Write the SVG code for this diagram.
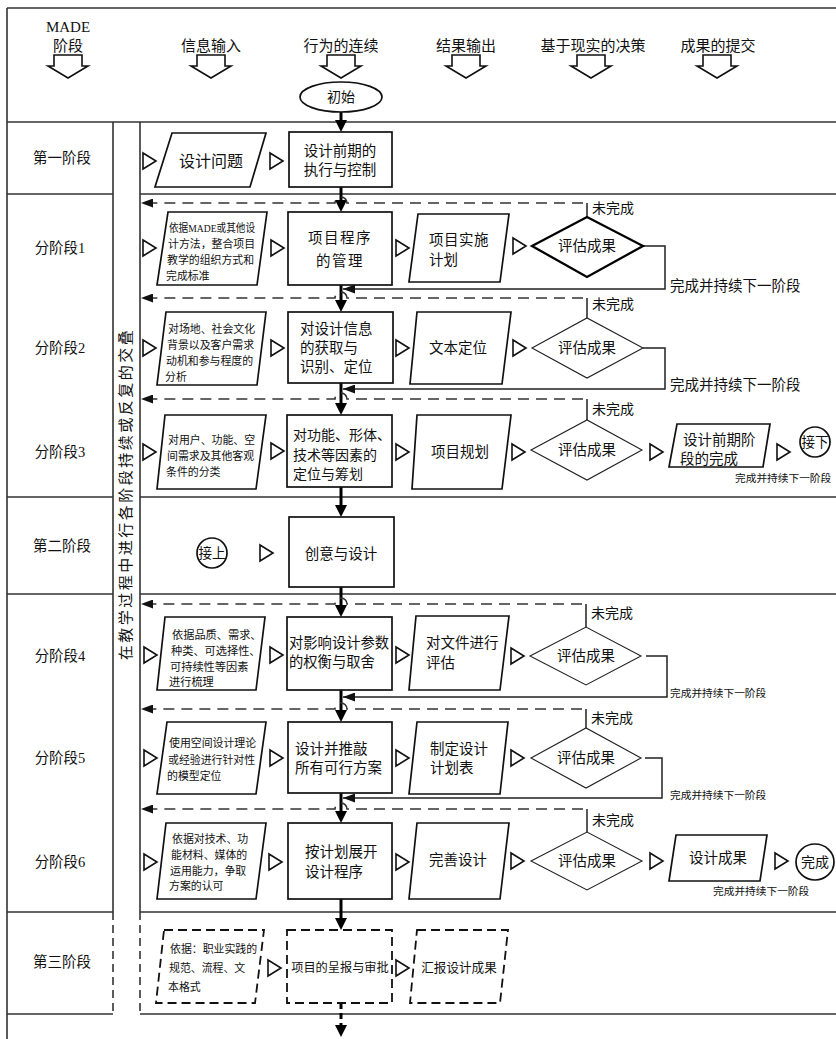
<svg xmlns="http://www.w3.org/2000/svg" xmlns:xlink="http://www.w3.org/1999/xlink" width="836" height="1039" viewBox="0 0 836 1039">
<style>
text{font-family:"Liberation Serif","Noto Sans CJK SC",serif;fill:#111;dominant-baseline:central}
.c{text-anchor:middle}
.h{font-size:15px}
.lab{font-size:14.5px;text-anchor:middle}
.m{font-size:14.5px}
.s{font-size:10.9px}
.xs{font-size:11.2px}
.sm{font-size:10.7px}
.sep{stroke:#333;stroke-width:1.6;fill:none}
.shp{fill:#fff;stroke:#111;stroke-width:1.7}
.thin{fill:#fff;stroke:#222;stroke-width:1.1}
.dsh{fill:#fff;stroke:#111;stroke-width:1.8;stroke-dasharray:9 5}
.tri{fill:#fff;stroke:#111;stroke-width:1.6}
.flow{stroke:#000;stroke-width:3;fill:none}
.fb{stroke:#333;stroke-width:1.6;fill:none;stroke-dasharray:11 7}
.ret{stroke:#222;stroke-width:1.5;fill:none}
</style>
<defs>
<marker id="fa" viewBox="0 0 12 12" refX="6" refY="6" markerWidth="12" markerHeight="12" markerUnits="userSpaceOnUse" orient="auto"><path d="M0,0 L12,6 L0,12 Z" fill="#000"/></marker>
<marker id="la" viewBox="0 0 12 9" refX="12" refY="4.5" markerWidth="12" markerHeight="9" markerUnits="userSpaceOnUse" orient="auto"><path d="M0,0 L12,4.5 L0,9 Z" fill="#111"/></marker>
<path id="tr" d="M0,-8 L13,0 L0,8 Z" class="tri"/>
<path id="ha" d="M-14,0 H14 V11 H20 L0,23 L-20,11 H-14 Z" fill="#fff" stroke="#111" stroke-width="1.6"/>
</defs>

<g id="frame">
<path class="sep" d="M7,8 H836 M7,8 V1039"/>
<path class="sep" d="M7,122 H836"/>
<path class="sep" d="M7,194 H113 M140,194 H836"/>
<path class="sep" d="M7,497 H113 M140,497 H836"/>
<path class="sep" d="M7,594 H113 M140,594 H836"/>
<path class="sep" d="M7,912 H113 M140,912 H836"/>
<path class="sep" d="M7,1014 H113 M140,1014 H836"/>
<path class="sep" d="M113,122 V912 M140,122 V912"/>
<path class="sep" stroke-dasharray="8 5" d="M113,912 V1014 M140,912 V1014"/>
</g>

<g id="header">
<text class="h c" x="68" y="27">MADE</text>
<text class="h c" x="68" y="46">阶段</text>
<text class="h c" x="211" y="46">信息输入</text>
<text class="h c" x="341" y="46">行为的连续</text>
<text class="h c" x="466" y="46">结果输出</text>
<text class="h c" x="593" y="46">基于现实的决策</text>
<text class="h c" x="718" y="46">成果的提交</text>
<use xlink:href="#ha" x="68" y="55"/>
<use xlink:href="#ha" x="211" y="55"/>
<use xlink:href="#ha" x="341" y="55"/>
<use xlink:href="#ha" x="466" y="55"/>
<use xlink:href="#ha" x="591" y="55"/>
<use xlink:href="#ha" x="717" y="55"/>
</g>

<g id="stage-labels">
<text class="lab" x="62" y="158">第一阶段</text>
<text class="lab" x="60" y="248">分阶段1</text>
<text class="lab" x="60" y="348">分阶段2</text>
<text class="lab" x="60" y="452">分阶段3</text>
<text class="lab" x="62" y="546">第二阶段</text>
<text class="lab" x="60" y="656">分阶段4</text>
<text class="lab" x="60" y="758">分阶段5</text>
<text class="lab" x="60" y="862">分阶段6</text>
<text class="lab" x="62" y="962">第三阶段</text>
<text font-size="15" class="c" x="126" y="494" letter-spacing="2.5" transform="rotate(-90 126 494)">在教学过程中进行各阶段持续或反复的交叠</text>
</g>

<g id="connectors">
<path class="flow" d="M341,112 V126" marker-end="url(#fa)"/>
<path class="flow" d="M341,187 V206" marker-end="url(#fa)"/>
<path class="flow" d="M341,285 V306" marker-end="url(#fa)"/>
<path class="flow" d="M341,383 V409" marker-end="url(#fa)"/>
<path class="flow" d="M341,487 V511" marker-end="url(#fa)"/>
<path class="flow" d="M341,587 V611" marker-end="url(#fa)"/>
<path class="flow" d="M341,690 V716" marker-end="url(#fa)"/>
<path class="flow" d="M341,793 V817" marker-end="url(#fa)"/>
<path class="flow" d="M341,899 V924" marker-end="url(#fa)"/>
<path class="flow" stroke-dasharray="6 4" d="M341,1003 V1031" marker-end="url(#fa)"/>
<path class="ret" d="M587,217 V203 M587,318 V298 M587,420 V399 M586,627 V604 M586,728 V709 M587,832 V809"/>
<path class="fb" d="M583,203 H347 A6,6 0 0 0 335,203 H141" marker-end="url(#la)"/>
<path class="fb" d="M583,298 H347 A6,6 0 0 0 335,298 H141" marker-end="url(#la)"/>
<path class="fb" d="M583,399 H347 A6,6 0 0 0 335,399 H141" marker-end="url(#la)"/>
<path class="fb" d="M582,604 H347 A6,6 0 0 0 335,604 H141" marker-end="url(#la)"/>
<path class="fb" d="M582,709 H347 A6,6 0 0 0 335,709 H141" marker-end="url(#la)"/>
<path class="fb" d="M583,809 H347 A6,6 0 0 0 335,809 H141" marker-end="url(#la)"/>
<path class="ret" d="M643,246 H665 V289 H343" marker-end="url(#la)"/>
<path class="ret" d="M643,348 H665 V389 H343" marker-end="url(#la)"/>
<path class="ret" d="M646,656 H667 V697 H343" marker-end="url(#la)"/>
<path class="ret" d="M645,758 H662 V798 H343" marker-end="url(#la)"/>
<text font-size="14" x="592" y="208">未完成</text>
<text font-size="14" x="592" y="304">未完成</text>
<text font-size="14" x="592" y="409">未完成</text>
<text font-size="14" x="591" y="613">未完成</text>
<text font-size="14" x="591" y="718">未完成</text>
<text font-size="14" x="592" y="820">未完成</text>
<text font-size="14.5" x="670" y="286">完成并持续下一阶段</text>
<text font-size="14.5" x="670" y="385">完成并持续下一阶段</text>
<text class="sm" x="735" y="478">完成并持续下一阶段</text>
<text class="sm" x="670" y="693">完成并持续下一阶段</text>
<text class="sm" x="670" y="795">完成并持续下一阶段</text>
<text class="sm" x="713" y="891">完成并持续下一阶段</text>
</g>

<g id="triangles">
<use xlink:href="#tr" x="143" y="161"/><use xlink:href="#tr" x="270" y="161"/>
<use xlink:href="#tr" x="143" y="248"/><use xlink:href="#tr" x="271" y="248"/><use xlink:href="#tr" x="396" y="248"/><use xlink:href="#tr" x="513" y="246"/>
<use xlink:href="#tr" x="143" y="348"/><use xlink:href="#tr" x="271" y="348"/><use xlink:href="#tr" x="396" y="348"/><use xlink:href="#tr" x="513" y="348"/>
<use xlink:href="#tr" x="143" y="452"/><use xlink:href="#tr" x="271" y="451"/><use xlink:href="#tr" x="396" y="452"/><use xlink:href="#tr" x="512" y="452"/><use xlink:href="#tr" x="650" y="452"/><use xlink:href="#tr" x="777" y="452"/>
<use xlink:href="#tr" x="260" y="553"/>
<use xlink:href="#tr" x="144" y="655"/><use xlink:href="#tr" x="270" y="655"/><use xlink:href="#tr" x="396" y="655"/><use xlink:href="#tr" x="511" y="656"/>
<use xlink:href="#tr" x="144" y="758"/><use xlink:href="#tr" x="270" y="758"/><use xlink:href="#tr" x="396" y="758"/><use xlink:href="#tr" x="511" y="758"/>
<use xlink:href="#tr" x="144" y="862"/><use xlink:href="#tr" x="269" y="862"/><use xlink:href="#tr" x="396" y="862"/><use xlink:href="#tr" x="511" y="861"/><use xlink:href="#tr" x="650" y="861"/><use xlink:href="#tr" x="775" y="861"/>
<use xlink:href="#tr" x="268" y="968"/><use xlink:href="#tr" x="396" y="968"/>
</g>

<g id="n-start"><ellipse class="shp" cx="341" cy="97" rx="41" ry="15"/><text class="c" font-size="14" x="341" y="97">初始</text></g>

<g id="n-s1-in"><polygon class="shp" points="172,133 266,133 250,187 155,187"/><text class="c" font-size="16" x="211" y="161">设计问题</text></g>
<g id="n-s1-act"><rect class="shp" x="289" y="132" width="103" height="55"/><text class="m c" x="340" y="151">设计前期的</text><text class="m c" x="340" y="170">执行与控制</text></g>

<g id="n-r1-in"><polygon class="shp" points="168,212 267,212 257,285 157,285"/><text class="s" x="169" y="228" textLength="86" lengthAdjust="spacingAndGlyphs">依据MADE或其他设</text><text class="s" x="168" y="244">计方法，整合项目</text><text class="s" x="167" y="260">教学的组织方式和</text><text class="s" x="166" y="276">完成标准</text></g>
<g id="n-r1-act"><rect class="shp" x="288" y="212" width="104" height="73"/><text class="m c" x="340" y="238" letter-spacing="1.5">项目程序</text><text class="m c" x="340" y="261" letter-spacing="1.5">的管理</text></g>
<g id="n-r1-out"><polygon class="shp" points="418,214 509,214 500,282 409,282"/><text class="m" x="429" y="240" letter-spacing="0.5">项目实施</text><text class="m" x="429" y="260">计划</text></g>
<g id="n-r1-eval"><polygon fill="#fff" stroke="#000" stroke-width="2.3" points="532,246 587,217 643,246 587,277"/><text class="m c" x="587" y="246">评估成果</text></g>

<g id="n-r2-in"><polygon class="shp" points="166,312 266,312 257,385 157,385"/><text class="s" x="168" y="329">对场地、社会文化</text><text class="s" x="167" y="345">背景以及客户需求</text><text class="s" x="166" y="361">动机和参与程度的</text><text class="s" x="165" y="377">分析</text></g>
<g id="n-r2-act"><rect class="shp" x="288" y="312" width="105" height="71"/><text class="m" x="300" y="329">对设计信息</text><text class="m" x="300" y="348">的获取与</text><text class="m" x="300" y="367">识别、定位</text></g>
<g id="n-r2-out"><polygon class="shp" points="417,312 511,312 502,384 410,384"/><text class="m c" x="458" y="348">文本定位</text></g>
<g id="n-r2-eval"><polygon class="thin" points="532,348 587,318 643,348 587,378"/><text class="m c" x="587" y="348">评估成果</text></g>

<g id="n-r3-in"><polygon class="shp" points="165,415 266,415 256,489 157,489"/><text class="s" x="168" y="440">对用户、功能、空</text><text class="s" x="167" y="456">间需求及其他客观</text><text class="s" x="166" y="472">条件的分类</text></g>
<g id="n-r3-act"><rect class="shp" x="287" y="415" width="105" height="72"/><text font-size="14" x="293" y="435">对功能、形体、</text><text font-size="14" x="293" y="455">技术等因素的</text><text font-size="14" x="293" y="474">定位与筹划</text></g>
<g id="n-r3-out"><polygon class="shp" points="417,415 511,415 502,489 412,489"/><text class="m c" x="460" y="452">项目规划</text></g>
<g id="n-r3-eval"><polygon class="thin" points="531,450 587,420 642,450 587,480"/><text class="m c" x="587" y="450">评估成果</text></g>
<g id="n-r3-done"><polygon class="shp" points="677,424 770,424 763,467 669,467"/><text class="m" x="683" y="440">设计前期阶</text><text class="m" x="680" y="459">段的完成</text></g>
<g id="n-next"><circle class="shp" cx="815" cy="442" r="15"/><text class="c" font-size="13.5" x="815" y="442">接下</text></g>

<g id="n-prev"><circle class="shp" cx="212" cy="553" r="15"/><text class="c" font-size="13.5" x="212" y="553">接上</text></g>
<g id="n-s2-act"><rect class="shp" x="289" y="517" width="105" height="70"/><text class="m c" x="341" y="554">创意与设计</text></g>

<g id="n-r4-in"><polygon class="shp" points="165,617 265,617 256,690 157,690"/><text class="xs" x="172" y="635">依据品质、需求、</text><text class="xs" x="171" y="651">种类、可选择性、</text><text class="xs" x="170" y="667">可持续性等因素</text><text class="xs" x="169" y="682">进行梳理</text></g>
<g id="n-r4-act"><rect class="shp" x="287" y="617" width="105" height="73"/><text font-size="14.3" x="289" y="643">对影响设计参数</text><text font-size="14.3" x="289" y="662">的权衡与取舍</text></g>
<g id="n-r4-out"><polygon class="shp" points="416,616 509,616 500,690 409,690"/><text class="m" x="426" y="643">对文件进行</text><text class="m" x="426" y="663">评估</text></g>
<g id="n-r4-eval"><polygon class="thin" points="530,656 586,627 641,656 586,685"/><text class="m c" x="586" y="656">评估成果</text></g>

<g id="n-r5-in"><polygon class="shp" points="167,722 266,722 256,794 157,794"/><text class="s" x="169" y="743">使用空间设计理论</text><text class="s" x="168" y="760">或经验进行针对性</text><text class="s" x="167" y="776">的模型定位</text></g>
<g id="n-r5-act"><rect class="shp" x="288" y="722" width="104" height="71"/><text class="m" x="295" y="749">设计并推敲</text><text class="m" x="295" y="768">所有可行方案</text></g>
<g id="n-r5-out"><polygon class="shp" points="417,722 508,722 500,794 409,794"/><text class="m" x="430" y="749">制定设计</text><text class="m" x="430" y="768">计划表</text></g>
<g id="n-r5-eval"><polygon class="thin" points="531,758 586,728 641,758 586,788"/><text class="m c" x="586" y="758">评估成果</text></g>

<g id="n-r6-in"><polygon class="shp" points="166,823 266,823 256,899 157,899"/><text class="s" x="172" y="839">依据对技术、功</text><text class="s" x="171" y="855">能材料、媒体的</text><text class="s" x="170" y="871">运用能力，争取</text><text class="s" x="169" y="886">方案的认可</text></g>
<g id="n-r6-act"><rect class="shp" x="288" y="823" width="104" height="76"/><text class="m" x="305" y="852">按计划展开</text><text class="m" x="305" y="872">设计程序</text></g>
<g id="n-r6-out"><polygon class="shp" points="417,823 509,823 500,899 409,899"/><text class="m c" x="458" y="860">完善设计</text></g>
<g id="n-r6-eval"><polygon class="thin" points="531,861 587,832 642,861 587,890"/><text class="m c" x="587" y="861">评估成果</text></g>
<g id="n-r6-done"><polygon class="shp" points="676,835 767,835 760,881 669,881"/><text class="m c" x="718" y="858">设计成果</text></g>
<g id="n-end"><ellipse class="shp" cx="815" cy="862" rx="19" ry="18"/><text class="c" font-size="14" x="815" y="862">完成</text></g>

<g id="n-s3-in"><polygon class="dsh" points="164,930 264,930 255,1003 156,1003"/><text class="s" x="170" y="949">依据：职业实践的</text><text class="s" x="169" y="968">规范、流程、文</text><text class="s" x="168" y="987">本格式</text></g>
<g id="n-s3-act"><rect class="dsh" x="287" y="930" width="105" height="73"/><text class="c" font-size="12.2" x="340" y="968">项目的呈报与审批</text></g>
<g id="n-s3-out"><polygon class="dsh" points="417,930 508,930 500,1003 410,1003"/><text class="c" font-size="12.6" x="459" y="968">汇报设计成果</text></g>
</svg>
